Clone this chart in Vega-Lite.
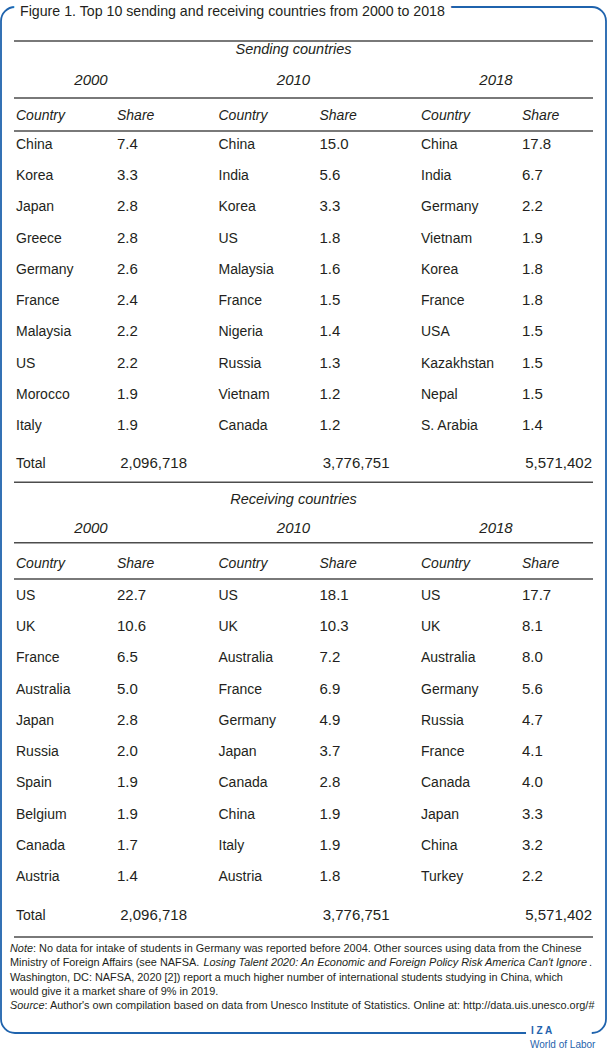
{
  "$schema": "https://vega.github.io/schema/vega-lite/v6.json",
  "width": 605,
  "height": 1026,
  "autosize": "none",
  "padding": {"left": 1, "top": 7, "right": 2, "bottom": 17},
  "background": "white",
  "config": {
    "view": {"stroke": "#1f63ad", "strokeWidth": 1.8, "cornerRadius": 14},
    "text": {"font": "Liberation Sans", "color": "#231f20", "fontWeight": "normal"},
    "axis": {"disable": true}
  },
  "datasets": {
    "sending": [
      {"year": "2000", "rank": 1, "country": "China", "share": 7.4},
      {"year": "2000", "rank": 2, "country": "Korea", "share": 3.3},
      {"year": "2000", "rank": 3, "country": "Japan", "share": 2.8},
      {"year": "2000", "rank": 4, "country": "Greece", "share": 2.8},
      {"year": "2000", "rank": 5, "country": "Germany", "share": 2.6},
      {"year": "2000", "rank": 6, "country": "France", "share": 2.4},
      {"year": "2000", "rank": 7, "country": "Malaysia", "share": 2.2},
      {"year": "2000", "rank": 8, "country": "US", "share": 2.2},
      {"year": "2000", "rank": 9, "country": "Morocco", "share": 1.9},
      {"year": "2000", "rank": 10, "country": "Italy", "share": 1.9},
      {"year": "2010", "rank": 1, "country": "China", "share": 15.0},
      {"year": "2010", "rank": 2, "country": "India", "share": 5.6},
      {"year": "2010", "rank": 3, "country": "Korea", "share": 3.3},
      {"year": "2010", "rank": 4, "country": "US", "share": 1.8},
      {"year": "2010", "rank": 5, "country": "Malaysia", "share": 1.6},
      {"year": "2010", "rank": 6, "country": "France", "share": 1.5},
      {"year": "2010", "rank": 7, "country": "Nigeria", "share": 1.4},
      {"year": "2010", "rank": 8, "country": "Russia", "share": 1.3},
      {"year": "2010", "rank": 9, "country": "Vietnam", "share": 1.2},
      {"year": "2010", "rank": 10, "country": "Canada", "share": 1.2},
      {"year": "2018", "rank": 1, "country": "China", "share": 17.8},
      {"year": "2018", "rank": 2, "country": "India", "share": 6.7},
      {"year": "2018", "rank": 3, "country": "Germany", "share": 2.2},
      {"year": "2018", "rank": 4, "country": "Vietnam", "share": 1.9},
      {"year": "2018", "rank": 5, "country": "Korea", "share": 1.8},
      {"year": "2018", "rank": 6, "country": "France", "share": 1.8},
      {"year": "2018", "rank": 7, "country": "USA", "share": 1.5},
      {"year": "2018", "rank": 8, "country": "Kazakhstan", "share": 1.5},
      {"year": "2018", "rank": 9, "country": "Nepal", "share": 1.5},
      {"year": "2018", "rank": 10, "country": "S. Arabia", "share": 1.4}
    ],
    "receiving": [
      {"year": "2000", "rank": 1, "country": "US", "share": 22.7},
      {"year": "2000", "rank": 2, "country": "UK", "share": 10.6},
      {"year": "2000", "rank": 3, "country": "France", "share": 6.5},
      {"year": "2000", "rank": 4, "country": "Australia", "share": 5.0},
      {"year": "2000", "rank": 5, "country": "Japan", "share": 2.8},
      {"year": "2000", "rank": 6, "country": "Russia", "share": 2.0},
      {"year": "2000", "rank": 7, "country": "Spain", "share": 1.9},
      {"year": "2000", "rank": 8, "country": "Belgium", "share": 1.9},
      {"year": "2000", "rank": 9, "country": "Canada", "share": 1.7},
      {"year": "2000", "rank": 10, "country": "Austria", "share": 1.4},
      {"year": "2010", "rank": 1, "country": "US", "share": 18.1},
      {"year": "2010", "rank": 2, "country": "UK", "share": 10.3},
      {"year": "2010", "rank": 3, "country": "Australia", "share": 7.2},
      {"year": "2010", "rank": 4, "country": "France", "share": 6.9},
      {"year": "2010", "rank": 5, "country": "Germany", "share": 4.9},
      {"year": "2010", "rank": 6, "country": "Japan", "share": 3.7},
      {"year": "2010", "rank": 7, "country": "Canada", "share": 2.8},
      {"year": "2010", "rank": 8, "country": "China", "share": 1.9},
      {"year": "2010", "rank": 9, "country": "Italy", "share": 1.9},
      {"year": "2010", "rank": 10, "country": "Austria", "share": 1.8},
      {"year": "2018", "rank": 1, "country": "US", "share": 17.7},
      {"year": "2018", "rank": 2, "country": "UK", "share": 8.1},
      {"year": "2018", "rank": 3, "country": "Australia", "share": 8.0},
      {"year": "2018", "rank": 4, "country": "Germany", "share": 5.6},
      {"year": "2018", "rank": 5, "country": "Russia", "share": 4.7},
      {"year": "2018", "rank": 6, "country": "France", "share": 4.1},
      {"year": "2018", "rank": 7, "country": "Canada", "share": 4.0},
      {"year": "2018", "rank": 8, "country": "Japan", "share": 3.3},
      {"year": "2018", "rank": 9, "country": "China", "share": 3.2},
      {"year": "2018", "rank": 10, "country": "Turkey", "share": 2.2}
    ],
    "years": [{"year": "2000"}, {"year": "2010"}, {"year": "2018"}],
    "totals": [
      {"year": "2000", "total": 2096718},
      {"year": "2010", "total": 3776751},
      {"year": "2018", "total": 5571402}
    ]
  },
  "resolve": {"scale": {"x": "independent", "y": "independent"}},
  "layer": [
    {
      "data": {"values": [{"title": "Figure 1. Top 10 sending and receiving countries from 2000 to 2018"}]},
      "encoding": {
        "x": {"datum": 0, "type": "quantitative", "scale": {"domain": [0, 1], "range": [19, 500]}, "axis": null},
        "y": {"datum": 0, "type": "quantitative", "scale": {"domain": [0, 1], "range": [5, 100]}, "axis": null},
        "text": {"field": "title"}
      },
      "layer": [
        {"mark": {"type": "text", "align": "left", "baseline": "middle", "fontSize": 14.2, "stroke": "white", "strokeWidth": 14, "strokeJoin": "round", "color": "white"}},
        {"mark": {"type": "text", "align": "left", "baseline": "middle", "fontSize": 14.2}}
      ]
    },
    {
      "data": {"name": "sending"},
      "layer": [
        {
          "mark": {"type": "text", "align": "left", "baseline": "alphabetic", "dy": 5, "fontSize": 14},
          "encoding": {
            "x": {"field": "year", "type": "ordinal", "scale": {"type": "point", "padding": 0, "domain": ["2000", "2010", "2018"], "range": [15, 420]}, "axis": null},
            "y": {"field": "rank", "type": "quantitative", "scale": {"domain": [1, 10], "range": [137, 418], "zero": false, "nice": false}, "axis": null},
            "text": {"field": "country"}
          }
        },
        {
          "mark": {"type": "text", "align": "left", "baseline": "alphabetic", "dy": 5, "fontSize": 15, "dx": 101},
          "encoding": {
            "x": {"field": "year", "type": "ordinal", "scale": {"type": "point", "padding": 0, "domain": ["2000", "2010", "2018"], "range": [15, 420]}, "axis": null},
            "y": {"field": "rank", "type": "quantitative", "scale": {"domain": [1, 10], "range": [137, 418], "zero": false, "nice": false}, "axis": null},
            "text": {"field": "share", "format": ".1f"}
          }
        },
        {
          "data": {"name": "years"},
          "mark": {"type": "text", "align": "left", "baseline": "alphabetic", "dy": 5, "fontSize": 14, "fontStyle": "italic"},
          "encoding": {
            "x": {"field": "year", "type": "ordinal", "scale": {"type": "point", "padding": 0, "domain": ["2000", "2010", "2018"], "range": [15, 420]}, "axis": null},
            "y": {"datum": 0.07, "type": "quantitative", "scale": {"domain": [1, 10], "range": [137, 418], "zero": false, "nice": false}, "axis": null},
            "text": {"value": "Country"}
          }
        },
        {
          "data": {"name": "years"},
          "mark": {"type": "text", "align": "left", "baseline": "alphabetic", "dy": 5, "fontSize": 14, "fontStyle": "italic", "dx": 101},
          "encoding": {
            "x": {"field": "year", "type": "ordinal", "scale": {"type": "point", "padding": 0, "domain": ["2000", "2010", "2018"], "range": [15, 420]}, "axis": null},
            "y": {"datum": 0.07, "type": "quantitative", "scale": {"domain": [1, 10], "range": [137, 418], "zero": false, "nice": false}, "axis": null},
            "text": {"value": "Share"}
          }
        },
        {
          "data": {"name": "years"},
          "mark": {"type": "text", "align": "center", "baseline": "middle", "fontSize": 15, "fontStyle": "italic", "fontWeight": "normal", "dx": 75},
          "encoding": {
            "x": {"field": "year", "type": "ordinal", "scale": {"type": "point", "padding": 0, "domain": ["2000", "2010", "2018"], "range": [15, 420]}, "axis": null},
            "y": {"datum": -1.05, "type": "quantitative", "scale": {"domain": [1, 10], "range": [137, 418], "zero": false, "nice": false}, "axis": null},
            "text": {"field": "year"}
          }
        },
        {
          "data": {"values": [{"label": "Sending countries"}]},
          "mark": {"type": "text", "align": "center", "baseline": "middle", "fontSize": 14.5, "fontStyle": "italic", "dx": 75},
          "encoding": {
            "x": {"datum": "2010", "type": "ordinal", "scale": {"type": "point", "padding": 0, "domain": ["2000", "2010", "2018"], "range": [15, 420]}, "axis": null},
            "y": {"datum": -2.01, "type": "quantitative", "scale": {"domain": [1, 10], "range": [137, 418], "zero": false, "nice": false}, "axis": null},
            "text": {"field": "label"}
          }
        },
        {
          "data": {"name": "totals"},
          "mark": {"type": "text", "align": "right", "baseline": "alphabetic", "dy": 5, "fontSize": 15, "dx": 171},
          "encoding": {
            "x": {"field": "year", "type": "ordinal", "scale": {"type": "point", "padding": 0, "domain": ["2000", "2010", "2018"], "range": [15, 420]}, "axis": null},
            "y": {"datum": 11.22, "type": "quantitative", "scale": {"domain": [1, 10], "range": [137, 418], "zero": false, "nice": false}, "axis": null},
            "text": {"field": "total", "format": ",d"}
          }
        },
        {
          "data": {"values": [{"label": "Total"}]},
          "mark": {"type": "text", "align": "left", "baseline": "alphabetic", "dy": 5, "fontSize": 14},
          "encoding": {
            "x": {"datum": "2000", "type": "ordinal", "scale": {"type": "point", "padding": 0, "domain": ["2000", "2010", "2018"], "range": [15, 420]}, "axis": null},
            "y": {"datum": 11.22, "type": "quantitative", "scale": {"domain": [1, 10], "range": [137, 418], "zero": false, "nice": false}, "axis": null},
            "text": {"field": "label"}
          }
        },
        {
          "data": {"values": [{"edge": "top"}]},
          "mark": {"type": "rule", "color": "#4d4d4d", "strokeWidth": 1.5, "xOffset": -2, "x2Offset": 172},
          "encoding": {
            "x": {"datum": "2000", "type": "ordinal", "scale": {"type": "point", "padding": 0, "domain": ["2000", "2010", "2018"], "range": [15, 420]}, "axis": null},
            "x2": {"datum": "2018"},
            "y": {"datum": -2.3, "type": "quantitative", "scale": {"domain": [1, 10], "range": [137, 418], "zero": false, "nice": false}, "axis": null}
          }
        },
        {
          "data": {"values": [{"edge": "years"}]},
          "mark": {"type": "rule", "color": "#4d4d4d", "strokeWidth": 1.5, "xOffset": -2, "x2Offset": 172},
          "encoding": {
            "x": {"datum": "2000", "type": "ordinal", "scale": {"type": "point", "padding": 0, "domain": ["2000", "2010", "2018"], "range": [15, 420]}, "axis": null},
            "x2": {"datum": "2018"},
            "y": {"datum": -0.47, "type": "quantitative", "scale": {"domain": [1, 10], "range": [137, 418], "zero": false, "nice": false}, "axis": null}
          }
        },
        {
          "data": {"values": [{"edge": "header"}]},
          "mark": {"type": "rule", "color": "#4d4d4d", "strokeWidth": 1.5, "xOffset": -2, "x2Offset": 172},
          "encoding": {
            "x": {"datum": "2000", "type": "ordinal", "scale": {"type": "point", "padding": 0, "domain": ["2000", "2010", "2018"], "range": [15, 420]}, "axis": null},
            "x2": {"datum": "2018"},
            "y": {"datum": 0.58, "type": "quantitative", "scale": {"domain": [1, 10], "range": [137, 418], "zero": false, "nice": false}, "axis": null}
          }
        },
        {
          "data": {"values": [{"edge": "bottom"}]},
          "mark": {"type": "rule", "color": "#4d4d4d", "strokeWidth": 1.5, "xOffset": -2, "x2Offset": 172},
          "encoding": {
            "x": {"datum": "2000", "type": "ordinal", "scale": {"type": "point", "padding": 0, "domain": ["2000", "2010", "2018"], "range": [15, 420]}, "axis": null},
            "x2": {"datum": "2018"},
            "y": {"datum": 11.83, "type": "quantitative", "scale": {"domain": [1, 10], "range": [137, 418], "zero": false, "nice": false}, "axis": null}
          }
        }
      ]
    },
    {
      "data": {"name": "receiving"},
      "layer": [
        {
          "mark": {"type": "text", "align": "left", "baseline": "alphabetic", "dy": 5, "fontSize": 14},
          "encoding": {
            "x": {"field": "year", "type": "ordinal", "scale": {"type": "point", "padding": 0, "domain": ["2000", "2010", "2018"], "range": [15, 420]}, "axis": null},
            "y": {"field": "rank", "type": "quantitative", "scale": {"domain": [1, 10], "range": [588, 869], "zero": false, "nice": false}, "axis": null},
            "text": {"field": "country"}
          }
        },
        {
          "mark": {"type": "text", "align": "left", "baseline": "alphabetic", "dy": 5, "fontSize": 15, "dx": 101},
          "encoding": {
            "x": {"field": "year", "type": "ordinal", "scale": {"type": "point", "padding": 0, "domain": ["2000", "2010", "2018"], "range": [15, 420]}, "axis": null},
            "y": {"field": "rank", "type": "quantitative", "scale": {"domain": [1, 10], "range": [588, 869], "zero": false, "nice": false}, "axis": null},
            "text": {"field": "share", "format": ".1f"}
          }
        },
        {
          "data": {"name": "years"},
          "mark": {"type": "text", "align": "left", "baseline": "alphabetic", "dy": 5, "fontSize": 14, "fontStyle": "italic"},
          "encoding": {
            "x": {"field": "year", "type": "ordinal", "scale": {"type": "point", "padding": 0, "domain": ["2000", "2010", "2018"], "range": [15, 420]}, "axis": null},
            "y": {"datum": -0.02, "type": "quantitative", "scale": {"domain": [1, 10], "range": [588, 869], "zero": false, "nice": false}, "axis": null},
            "text": {"value": "Country"}
          }
        },
        {
          "data": {"name": "years"},
          "mark": {"type": "text", "align": "left", "baseline": "alphabetic", "dy": 5, "fontSize": 14, "fontStyle": "italic", "dx": 101},
          "encoding": {
            "x": {"field": "year", "type": "ordinal", "scale": {"type": "point", "padding": 0, "domain": ["2000", "2010", "2018"], "range": [15, 420]}, "axis": null},
            "y": {"datum": -0.02, "type": "quantitative", "scale": {"domain": [1, 10], "range": [588, 869], "zero": false, "nice": false}, "axis": null},
            "text": {"value": "Share"}
          }
        },
        {
          "data": {"name": "years"},
          "mark": {"type": "text", "align": "center", "baseline": "middle", "fontSize": 15, "fontStyle": "italic", "fontWeight": "normal", "dx": 75},
          "encoding": {
            "x": {"field": "year", "type": "ordinal", "scale": {"type": "point", "padding": 0, "domain": ["2000", "2010", "2018"], "range": [15, 420]}, "axis": null},
            "y": {"datum": -1.15, "type": "quantitative", "scale": {"domain": [1, 10], "range": [588, 869], "zero": false, "nice": false}, "axis": null},
            "text": {"field": "year"}
          }
        },
        {
          "data": {"values": [{"label": "Receiving countries"}]},
          "mark": {"type": "text", "align": "center", "baseline": "middle", "fontSize": 14.5, "fontStyle": "italic", "dx": 75},
          "encoding": {
            "x": {"datum": "2010", "type": "ordinal", "scale": {"type": "point", "padding": 0, "domain": ["2000", "2010", "2018"], "range": [15, 420]}, "axis": null},
            "y": {"datum": -2.04, "type": "quantitative", "scale": {"domain": [1, 10], "range": [588, 869], "zero": false, "nice": false}, "axis": null},
            "text": {"field": "label"}
          }
        },
        {
          "data": {"name": "totals"},
          "mark": {"type": "text", "align": "right", "baseline": "alphabetic", "dy": 5, "fontSize": 15, "dx": 171},
          "encoding": {
            "x": {"field": "year", "type": "ordinal", "scale": {"type": "point", "padding": 0, "domain": ["2000", "2010", "2018"], "range": [15, 420]}, "axis": null},
            "y": {"datum": 11.25, "type": "quantitative", "scale": {"domain": [1, 10], "range": [588, 869], "zero": false, "nice": false}, "axis": null},
            "text": {"field": "total", "format": ",d"}
          }
        },
        {
          "data": {"values": [{"label": "Total"}]},
          "mark": {"type": "text", "align": "left", "baseline": "alphabetic", "dy": 5, "fontSize": 14},
          "encoding": {
            "x": {"datum": "2000", "type": "ordinal", "scale": {"type": "point", "padding": 0, "domain": ["2000", "2010", "2018"], "range": [15, 420]}, "axis": null},
            "y": {"datum": 11.25, "type": "quantitative", "scale": {"domain": [1, 10], "range": [588, 869], "zero": false, "nice": false}, "axis": null},
            "text": {"field": "label"}
          }
        },
        {
          "data": {"values": [{"edge": "years"}]},
          "mark": {"type": "rule", "color": "#4d4d4d", "strokeWidth": 1.5, "xOffset": -2, "x2Offset": 172},
          "encoding": {
            "x": {"datum": "2000", "type": "ordinal", "scale": {"type": "point", "padding": 0, "domain": ["2000", "2010", "2018"], "range": [15, 420]}, "axis": null},
            "x2": {"datum": "2018"},
            "y": {"datum": -0.67, "type": "quantitative", "scale": {"domain": [1, 10], "range": [588, 869], "zero": false, "nice": false}, "axis": null}
          }
        },
        {
          "data": {"values": [{"edge": "header"}]},
          "mark": {"type": "rule", "color": "#4d4d4d", "strokeWidth": 1.5, "xOffset": -2, "x2Offset": 172},
          "encoding": {
            "x": {"datum": "2000", "type": "ordinal", "scale": {"type": "point", "padding": 0, "domain": ["2000", "2010", "2018"], "range": [15, 420]}, "axis": null},
            "x2": {"datum": "2018"},
            "y": {"datum": 0.49, "type": "quantitative", "scale": {"domain": [1, 10], "range": [588, 869], "zero": false, "nice": false}, "axis": null}
          }
        },
        {
          "data": {"values": [{"edge": "bottom"}]},
          "mark": {"type": "rule", "color": "#4d4d4d", "strokeWidth": 1.5, "xOffset": -2, "x2Offset": 172},
          "encoding": {
            "x": {"datum": "2000", "type": "ordinal", "scale": {"type": "point", "padding": 0, "domain": ["2000", "2010", "2018"], "range": [15, 420]}, "axis": null},
            "x2": {"datum": "2018"},
            "y": {"datum": 11.95, "type": "quantitative", "scale": {"domain": [1, 10], "range": [588, 869], "zero": false, "nice": false}, "axis": null}
          }
        }
      ]
    },
    {
      "encoding": {
        "x": {"datum": 0, "type": "quantitative", "scale": {"domain": [0, 1], "range": [9, 600]}, "axis": null},
        "y": {"field": "line", "type": "quantitative", "scale": {"domain": [1, 5], "range": [942, 999], "zero": false, "nice": false}, "axis": null},
        "text": {"field": "text"}
      },
      "layer": [
        {
          "data": {"values": [
            {"line": 2, "text": "Ministry of Foreign Affairs (see NAFSA."},
            {"line": 3, "text": "Washington, DC: NAFSA, 2020 [2]) report a much higher number of international students studying in China, which"},
            {"line": 4, "text": "would give it a market share of 9% in 2019."}
          ]},
          "mark": {"type": "text", "align": "left", "baseline": "middle", "fontSize": 10.9}
        },
        {
          "data": {"values": [{"line": 1, "text": "Note"}, {"line": 5, "text": "Source"}]},
          "mark": {"type": "text", "align": "left", "baseline": "middle", "fontSize": 10.9, "fontStyle": "italic"}
        },
        {
          "data": {"values": [{"line": 1, "text": ": No data for intake of students in Germany was reported before 2004. Other sources using data from the Chinese"}]},
          "mark": {"type": "text", "align": "left", "baseline": "middle", "fontSize": 10.9, "dx": 23}
        },
        {
          "data": {"values": [{"line": 5, "text": ": Author's own compilation based on data from Unesco Institute of Statistics. Online at: http://data.uis.unesco.org/#"}]},
          "mark": {"type": "text", "align": "left", "baseline": "middle", "fontSize": 10.9, "dx": 34.5}
        },
        {
          "data": {"values": [{"line": 2, "text": "Losing Talent 2020: An Economic and Foreign Policy Risk America Can't Ignore"}]},
          "mark": {"type": "text", "align": "left", "baseline": "middle", "fontSize": 10.9, "fontStyle": "italic", "dx": 193.5}
        },
        {
          "data": {"values": [{"line": 2, "text": "."}]},
          "mark": {"type": "text", "align": "left", "baseline": "middle", "fontSize": 10.9, "dx": 579}
        }
      ]
    },
    {
      "encoding": {
        "x": {"datum": 0, "type": "quantitative", "scale": {"domain": [0, 1], "range": [529, 600]}, "axis": null},
        "y": {"datum": 0, "type": "quantitative", "scale": {"domain": [0, 1], "range": [1024, 1038], "zero": false, "nice": false}, "axis": null}
      },
      "layer": [
        {
          "data": {"values": [{"part": "mask"}]},
          "mark": {"type": "rect", "color": "white"},
          "encoding": {
            "x": {"datum": -0.056, "type": "quantitative", "scale": {"domain": [0, 1], "range": [529, 600]}, "axis": null},
            "x2": {"datum": 0.87},
            "y": {"datum": -0.2, "type": "quantitative", "scale": {"domain": [0, 1], "range": [1024, 1038], "zero": false, "nice": false}, "axis": null},
            "y2": {"datum": 0.45}
          }
        },
        {
          "data": {"values": [{"text": "I Z A"}]},
          "mark": {"type": "text", "align": "left", "baseline": "middle", "fontSize": 10, "fontWeight": "bold", "color": "#1f63ad", "dx": 1},
          "encoding": {"text": {"field": "text"}}
        },
        {
          "data": {"values": [{"text": "World of Labor"}]},
          "mark": {"type": "text", "align": "left", "baseline": "middle", "fontSize": 10, "color": "#1f63ad"},
          "encoding": {
            "text": {"field": "text"},
            "y": {"datum": 1, "type": "quantitative", "scale": {"domain": [0, 1], "range": [1024, 1038], "zero": false, "nice": false}, "axis": null}
          }
        }
      ]
    }
  ]
}
